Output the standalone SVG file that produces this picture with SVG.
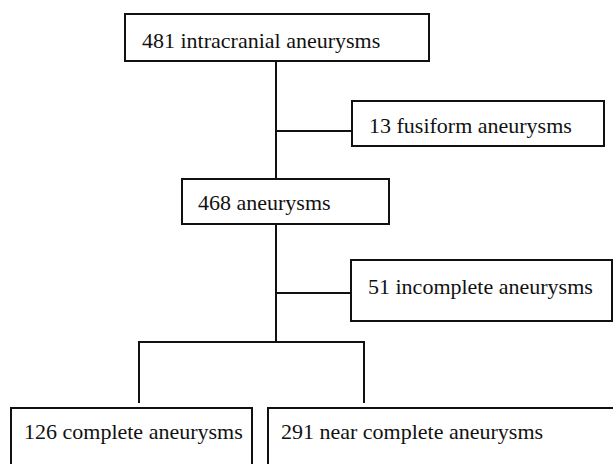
<svg xmlns="http://www.w3.org/2000/svg" width="613" height="464" viewBox="0 0 613 464">
<style>
.box{fill:#fff;stroke:#111;stroke-width:2}
.lbl{font-family:"Liberation Serif","Times New Roman",serif;font-size:22px;fill:#111}
.con{fill:none;stroke:#111;stroke-width:2}
</style>
<rect width="613" height="464" fill="#fff"/>
<g id="connectors">
<path class="con" d="M276 61V179"/>
<path class="con" d="M276 131H352"/>
<path class="con" d="M276 224V342"/>
<path class="con" d="M276 293H351"/>
<path class="con" d="M139 403V342H364V403"/>
</g>
<g id="n1"><rect class="box" x="125" y="14" width="304" height="47"/><text class="lbl" x="142" y="48">481 intracranial aneurysms</text></g>
<g id="n2"><rect class="box" x="352" y="101" width="252" height="45"/><text class="lbl" x="369" y="133">13 fusiform aneurysms</text></g>
<g id="n3"><rect class="box" x="182" y="179" width="207" height="45"/><text class="lbl" x="198" y="210">468 aneurysms</text></g>
<g id="n4"><rect class="box" x="351" y="260" width="261" height="61"/><text class="lbl" x="368" y="294">51 incomplete aneurysms</text></g>
<g id="n5"><rect class="box" x="11" y="408" width="241" height="70"/><text class="lbl" x="24" y="439">126 complete aneurysms</text></g>
<g id="n6"><rect class="box" x="268" y="408" width="360" height="70"/><text class="lbl" x="281" y="439">291 near complete aneurysms</text></g>
</svg>
